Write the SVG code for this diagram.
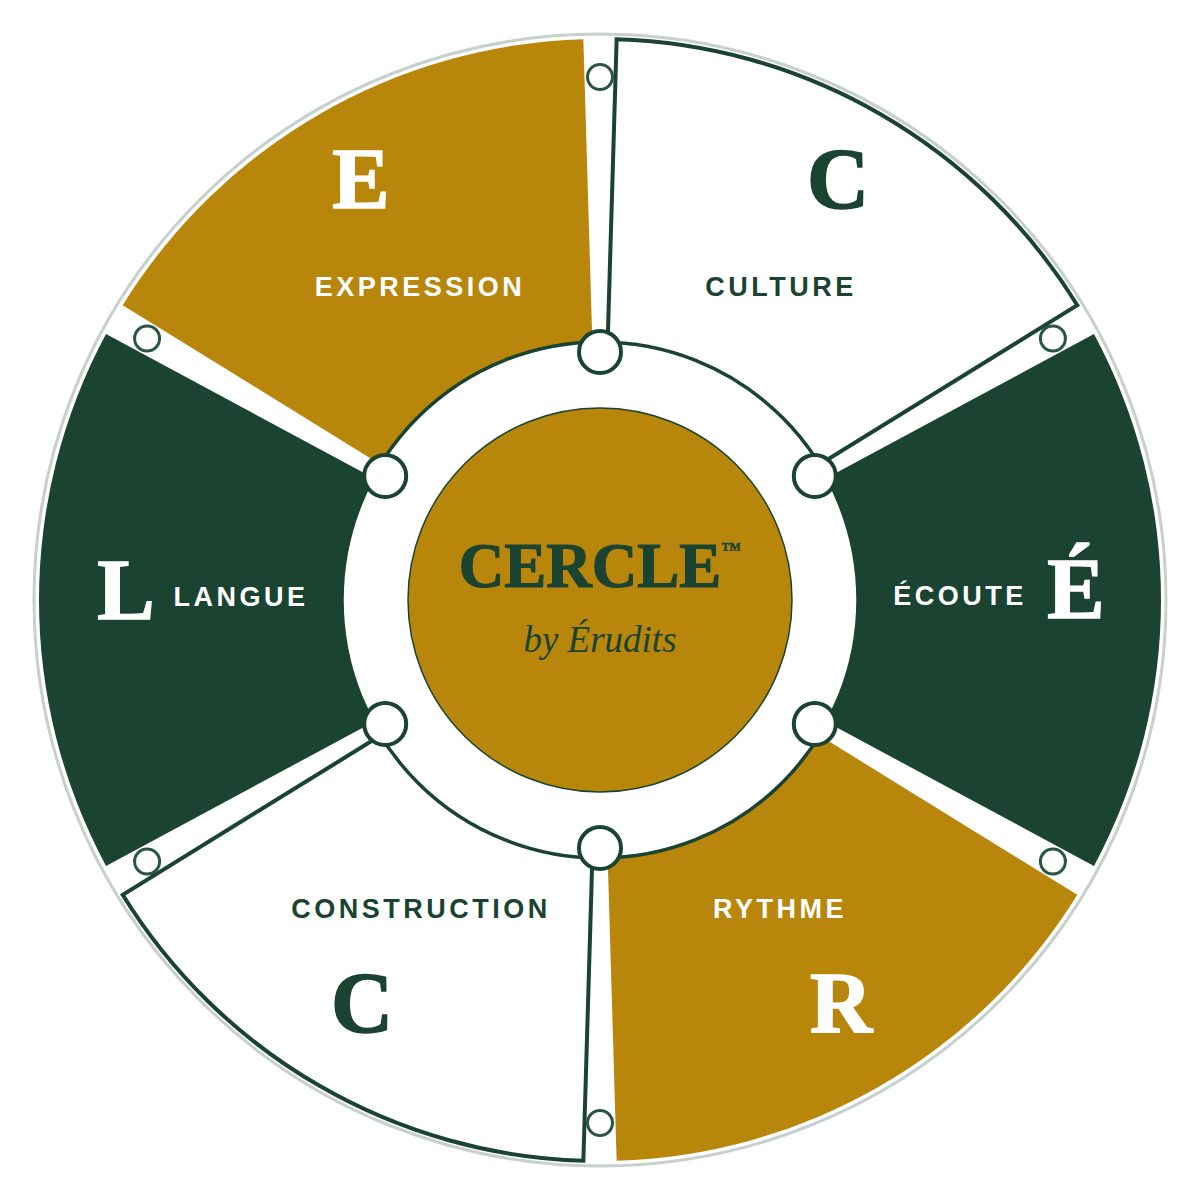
<svg xmlns="http://www.w3.org/2000/svg" width="1200" height="1200" viewBox="0 0 1200 1200">
  <style>
    .gold { fill: #B8860B; }
    .green { fill: #1B4332; }
    .white { fill: #FFFFFF; stroke: #1B4332; stroke-width: 4; stroke-linejoin: miter; }
    .big { font-family: "Liberation Serif", "Times New Roman", serif; font-weight: bold; font-size: 86px; text-anchor: middle; stroke-width: 1.6px; }
    .lab { font-family: "Liberation Sans", Arial, sans-serif; font-weight: bold; font-size: 27px; letter-spacing: 3.5px; text-anchor: middle; }
    .onw { fill: #1B4332; }
    .onc { fill: #FFFFFF; }
    .big.onw { stroke: #1B4332; }
    .big.onc { stroke: #FFFFFF; }
    .hub { fill: #FFFFFF; stroke: #1B4332; stroke-width: 4; }
    .pin { fill: #FFFFFF; stroke: #2A5543; stroke-width: 3; }
  </style>
  <rect width="1200" height="1200" fill="#FFFFFF"/>
  <circle cx="600" cy="600" r="566" fill="#FFFFFF" stroke="#C7D0CC" stroke-width="3"/>

  <g id="seg-culture">
    <path class="white" d="M616.64,39.25 A561,561 0 0 1 1077.31,305.21 L812.71,468.63 A250,250 0 0 0 607.42,350.11 Z"/>
    <text class="big onw" x="838" y="208">C</text>
    <text class="lab onw" x="781" y="296">CULTURE</text>
  </g>
  <g id="seg-ecoute">
    <path class="green" d="M1093.95,334.04 A561,561 0 0 1 1093.95,865.96 L820.12,718.52 A250,250 0 0 0 820.12,481.48 Z"/>
    <text class="big onc" x="1076" y="618">É</text>
    <text class="lab onc" x="960" y="605">ÉCOUTE</text>
  </g>
  <g id="seg-rythme">
    <path class="gold" d="M1077.31,894.79 A561,561 0 0 1 616.64,1160.75 L607.42,849.89 A250,250 0 0 0 812.71,731.37 Z"/>
    <text class="big onc" x="841" y="1032">R</text>
    <text class="lab onc" x="780" y="918">RYTHME</text>
  </g>
  <g id="seg-construction">
    <path class="white" d="M583.36,1160.75 A561,561 0 0 1 122.69,894.79 L387.29,731.37 A250,250 0 0 0 592.58,849.89 Z"/>
    <text class="big onw" x="362" y="1032">C</text>
    <text class="lab onw" x="421" y="918">CONSTRUCTION</text>
  </g>
  <g id="seg-langue">
    <path class="green" d="M106.05,865.96 A561,561 0 0 1 106.05,334.04 L379.88,481.48 A250,250 0 0 0 379.88,718.52 Z"/>
    <text class="big onc" x="126" y="619">L</text>
    <text class="lab onc" x="241" y="606">LANGUE</text>
  </g>
  <g id="seg-expression">
    <path class="gold" d="M122.69,305.21 A561,561 0 0 1 583.36,39.25 L592.58,350.11 A250,250 0 0 0 387.29,468.63 Z"/>
    <text class="big onc" x="361" y="208">E</text>
    <text class="lab onc" x="420" y="296">EXPRESSION</text>
  </g>

  <g id="ring">
    <circle cx="600" cy="600" r="258" fill="#FFFFFF" stroke="#1B4332" stroke-width="3.5"/>
  </g>

  <g id="center">
    <circle cx="600" cy="600" r="192" fill="#B8860B" stroke="#1B4332" stroke-width="1.5"/>
    <text x="600" y="587" font-family="'Liberation Serif', 'Times New Roman', serif" font-weight="bold" font-size="63" fill="#1B4332" stroke="#1B4332" stroke-width="1.2" text-anchor="middle">CERCLE<tspan font-size="20" stroke-width="0.4" dy="-31">™</tspan></text>
    <text x="600" y="652" font-family="'Liberation Serif', 'Times New Roman', serif" font-style="italic" font-size="37" fill="#1B4332" text-anchor="middle">by Érudits</text>
  </g>

  <g id="connectors">
    <circle class="hub" cx="600" cy="352" r="21"/>
    <circle class="hub" cx="814.8" cy="476" r="21"/>
    <circle class="hub" cx="814.8" cy="724" r="21"/>
    <circle class="hub" cx="600" cy="848" r="21"/>
    <circle class="hub" cx="385.2" cy="724" r="21"/>
    <circle class="hub" cx="385.2" cy="476" r="21"/>
    <circle class="pin" cx="600" cy="77" r="12.5"/>
    <circle class="pin" cx="1052.9" cy="338.5" r="12.5"/>
    <circle class="pin" cx="1052.9" cy="861.5" r="12.5"/>
    <circle class="pin" cx="600" cy="1123" r="12.5"/>
    <circle class="pin" cx="147.1" cy="861.5" r="12.5"/>
    <circle class="pin" cx="147.1" cy="338.5" r="12.5"/>
  </g>
</svg>
